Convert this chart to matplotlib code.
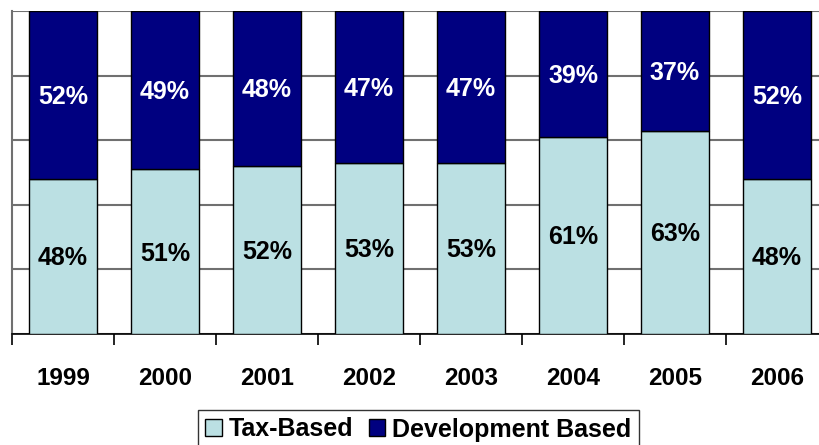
import matplotlib
matplotlib.use("Agg")
import matplotlib.pyplot as plt
from matplotlib.patches import Patch

years = ["1999", "2000", "2001", "2002", "2003", "2004", "2005", "2006"]
tax_based = [48, 51, 52, 53, 53, 61, 63, 48]
dev_based = [52, 49, 48, 47, 47, 39, 37, 52]

light = "#BBE0E3"
dark = "#000080"

plt.rcParams['font.family'] = ['Liberation Sans', 'DejaVu Sans']

W, H = 819, 445
fig = plt.figure(figsize=(W / 100, H / 100), dpi=100)
ax = fig.add_axes([12 / W, (H - 334) / H, 816 / W, 323 / H])

x = list(range(len(years)))
bw = 0.66
ax.bar(x, tax_based, width=bw, color=light, edgecolor="black", linewidth=1.0, zorder=3)
ax.bar(x, dev_based, width=bw, bottom=tax_based, color=dark, edgecolor="black", linewidth=1.0, zorder=3)

fs = 18
off = -0.716 * fs / 2
for i in x:
    ax.annotate(f"{tax_based[i]}%", (i, tax_based[i] / 2), xytext=(0, off),
                textcoords="offset points", ha="center", va="baseline",
                fontsize=fs, fontweight="bold", color="black", zorder=4)
    ax.annotate(f"{dev_based[i]}%", (i, tax_based[i] + dev_based[i] / 2), xytext=(0, off),
                textcoords="offset points", ha="center", va="baseline",
                fontsize=fs, fontweight="bold", color="white", zorder=4)

ax.set_xlim(-0.5, len(years) - 0.5)
ax.set_ylim(0, 100)
ax.set_yticks([0, 20, 40, 60, 80, 100])
ax.set_yticklabels([])
ax.tick_params(axis="y", length=0)
ax.yaxis.grid(True, color="#707070", linewidth=1.5, zorder=0)
ax.set_axisbelow(True)

ax.set_xticks(x)
ax.set_xticklabels(years, fontsize=17.5, fontweight="bold")
ax.set_xticks([i - 0.5 for i in range(len(years) + 1)], minor=True)
ax.tick_params(axis="x", which="major", length=0, pad=24)
ax.tick_params(axis="x", which="minor", length=8, width=1.2, color="black", direction="out")

for s in ["top", "right"]:
    ax.spines[s].set_visible(False)
ax.spines["bottom"].set_color("black")
ax.spines["bottom"].set_linewidth(1.2)
ax.spines["left"].set_color("#707070")
ax.spines["left"].set_linewidth(1.5)

handles = [Patch(facecolor=light, edgecolor="black", linewidth=1.0),
           Patch(facecolor=dark, edgecolor="black", linewidth=1.0)]
leg = fig.legend(handles, ["Tax-Based", "Development Based"], ncol=2,
                 loc="upper center", bbox_to_anchor=(418.5 / W, 1 - 410 / H),
                 frameon=True, fancybox=False, edgecolor="black",
                 prop={"size": 18, "weight": "bold"},
                 handlelength=0.65, handleheight=0.65, handletextpad=0.3,
                 columnspacing=0.6, borderpad=0.3, borderaxespad=0)
leg.get_frame().set_linewidth(1.0)

fig.savefig("out.png", dpi=100)
